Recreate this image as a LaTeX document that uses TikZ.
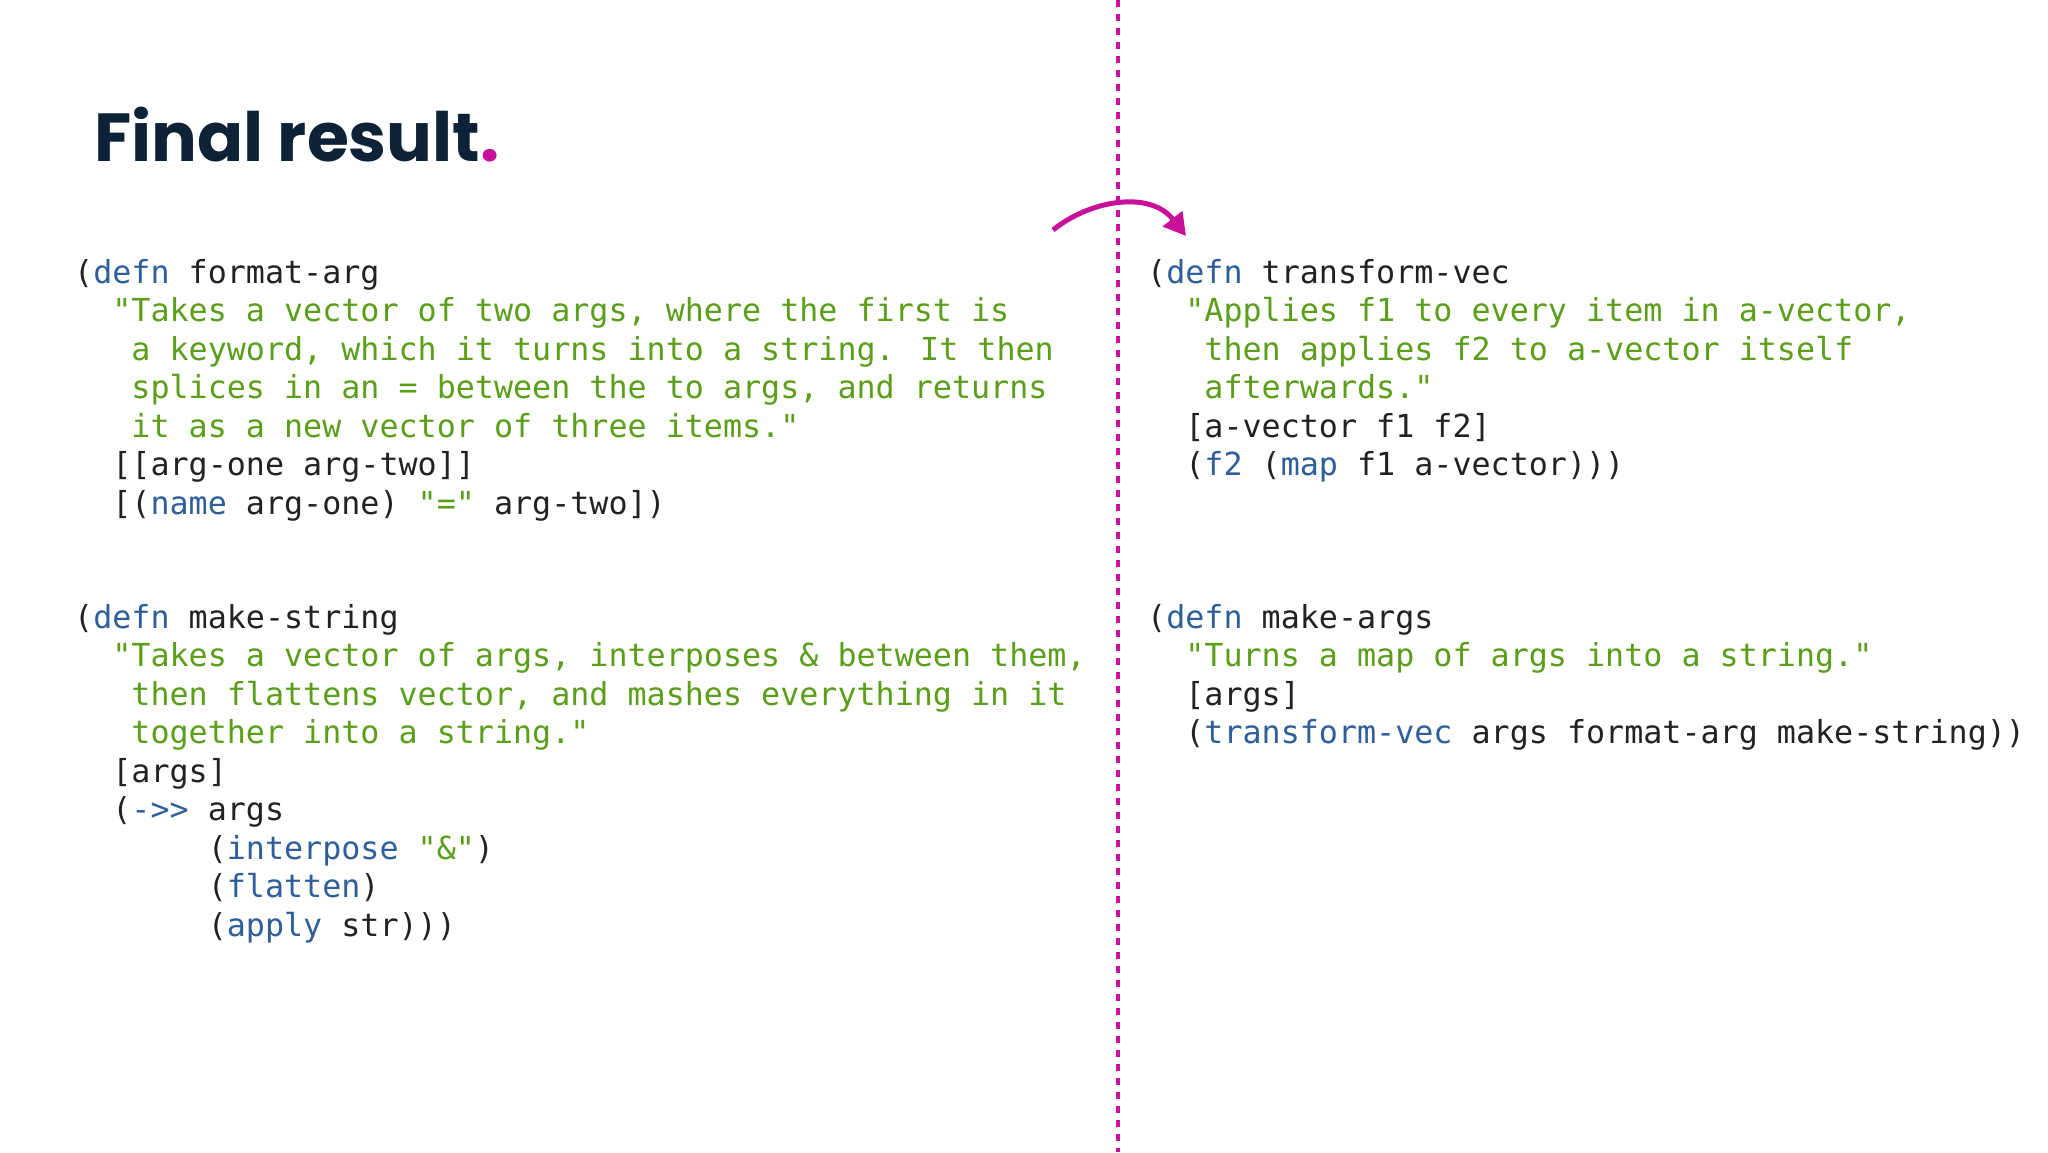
\documentclass[tikz,border=0pt]{standalone}
\usepackage{fontspec}
\setmainfont{Poppins}
\newfontfamily\codefont{DejaVu Sans Mono}[Scale=1]
\usetikzlibrary{arrows.meta}
\definecolor{kw}{HTML}{2F5F9A}
\definecolor{st}{HTML}{5A9E1A}
\definecolor{tx}{HTML}{222222}
\definecolor{navy}{HTML}{0D2137}
\definecolor{mag}{HTML}{C8109A}
\newcommand{\K}[1]{\textcolor{kw}{#1}}
\newcommand{\Sg}[1]{\textcolor{st}{#1}}
\tikzset{codeln/.style={anchor=base west,inner sep=0pt,text=tx,font=\codefont\fontsize{31.7}{38}\selectfont}}
\newcommand{\cl}[5]{\node[codeln] (#1) at ({#2+#3*19.08},{#4}) {#5};}
\begin{document}
\begin{tikzpicture}[x=1pt,y=-1pt]
\useasboundingbox (0,0) rectangle (2048,1152);
\fill[white] (0,0) rectangle (2048,1152);
\node[anchor=base west,inner sep=0pt,text=navy,font=\fontsize{68}{70}\selectfont\bfseries] (title) at (94,161) {Final result\textcolor{mag}{.}};
% dotted divider
\coordinate (dtop) at (1118,0);
\coordinate (dbot) at (1118,1152);
\draw[mag,line width=4.5pt,dash pattern=on 7pt off 7pt] (dtop) -- (dbot);
% arc arrow
\coordinate (as) at (1053,230);
\coordinate (ae) at (1186,236);
\draw[mag,line width=5pt,-{Triangle[length=22pt,width=24pt]}] (as) .. controls (1090,200) and (1150,190) .. (ae);
% left block 1
\def\xa{74}\def\xb{1147}
\cl{a0}{\xa}{0}{283}{(\K{defn} format-arg}
\cl{a1}{\xa}{2}{321.5}{\Sg{"Takes a vector of two args, where the first is}}
\cl{a2}{\xa}{3}{360}{\Sg{a keyword, which it turns into a string. It then}}
\cl{a3}{\xa}{3}{398.5}{\Sg{splices in an = between the to args, and returns}}
\cl{a4}{\xa}{3}{437}{\Sg{it as a new vector of three items."}}
\cl{a5}{\xa}{2}{475.5}{[[arg-one arg-two]]}
\cl{a6}{\xa}{2}{514}{[(\K{name} arg-one) \Sg{"="} arg-two])}
% left block 2
\cl{b0}{\xa}{0}{628}{(\K{defn} make-string}
\cl{b1}{\xa}{2}{666.5}{\Sg{"Takes a vector of args, interposes \& between them,}}
\cl{b2}{\xa}{3}{705}{\Sg{then flattens vector, and mashes everything in it}}
\cl{b3}{\xa}{3}{743.5}{\Sg{together into a string."}}
\cl{b4}{\xa}{2}{782}{[args]}
\cl{b5}{\xa}{2}{820.5}{(\K{->>} args}
\cl{b6}{\xa}{7}{859}{(\K{interpose} \Sg{"\&"})}
\cl{b7}{\xa}{7}{897.5}{(\K{flatten})}
\cl{b8}{\xa}{7}{936}{(\K{apply} str)))}
% right block 1
\cl{c0}{\xb}{0}{283}{(\K{defn} transform-vec}
\cl{c1}{\xb}{2}{321.5}{\Sg{"Applies f1 to every item in a-vector,}}
\cl{c2}{\xb}{3}{360}{\Sg{then applies f2 to a-vector itself}}
\cl{c3}{\xb}{3}{398.5}{\Sg{afterwards."}}
\cl{c4}{\xb}{2}{437}{[a-vector f1 f2]}
\cl{c5}{\xb}{2}{475.5}{(\K{f2} (\K{map} f1 a-vector)))}
% right block 2
\cl{d0}{\xb}{0}{628}{(\K{defn} make-args}
\cl{d1}{\xb}{2}{666.5}{\Sg{"Turns a map of args into a string."}}
\cl{d2}{\xb}{2}{705}{[args]}
\cl{d3}{\xb}{2}{743.5}{(\K{transform-vec} args format-arg make-string))}
\end{tikzpicture}
\end{document}
